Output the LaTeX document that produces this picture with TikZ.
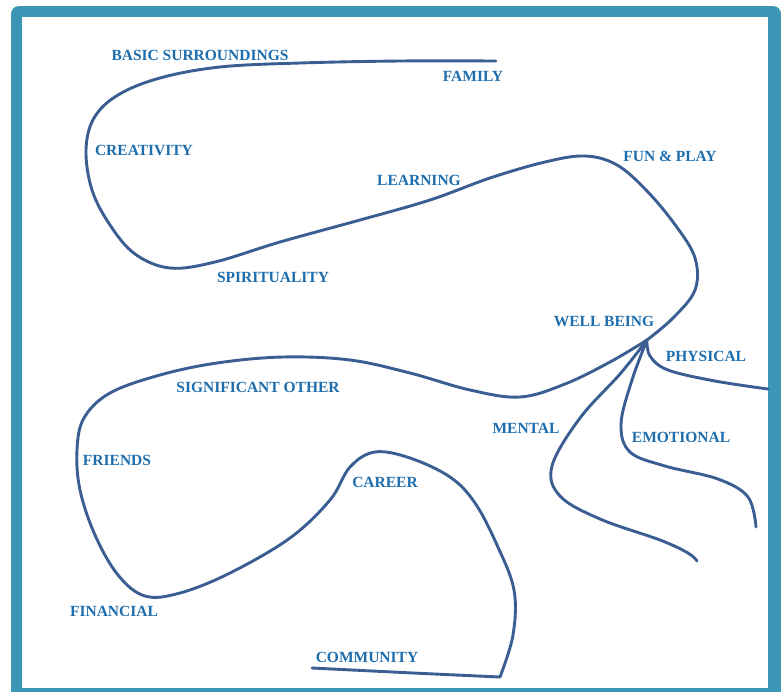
\documentclass[tikz,border=0pt]{standalone}
\usepackage{fontspec}
\setmainfont{Liberation Serif}
\usepackage{tikz}
\usetikzlibrary{calc}
\definecolor{framecol}{RGB}{59,150,181}
\definecolor{inkcol}{RGB}{58,94,146}
\definecolor{txtcol}{RGB}{30,110,174}
\tikzset{
  lbl/.style={text=txtcol,font=\bfseries\fontsize{15.5}{18}\selectfont,inner sep=0pt},
  curve/.style={draw=inkcol,line width=2.9pt,line cap=round,line join=round}
}
\newcommand{\frameit}[4]{
  \useasboundingbox (0,0) rectangle (#1,#2);
  \clip (0,0) rectangle (#1,#2);
  \fill[framecol,rounded corners=8pt] (11,6) rectangle (#1,#2+20);% Draw teal border
  \fill[white] (22,17) rectangle (#3,#4);% White sheet
}

\begin{document}
\begin{tikzpicture}[x=1pt,y=-1pt]
    \frameit{781}{691}{768}{688}

    \coordinate (cusp) at (647,340);

    % upper loop, from family round to well being
    \draw[curve] plot[smooth,tension=0.6] coordinates {
      (496,61) (400,61) (300,63) (220,67) (160,78) (118,95) (94,118)
      (86,150) (92,190) (110,225) (135,254) (170,268) (215,262)
      (280,242) (360,220) (430,200) (490,178) (545,162) (585,156)
      (617,165) (647,191) (676,226) (695,258) (695,290) (673,318) (cusp)};
    % lower loop, from well being down to community
    \draw[curve] plot[smooth,tension=0.6] coordinates {
      (cusp) (610,362) (565,384) (520,397) (470,390) (410,373) (350,360)
      (283,357) (217,363) (160,375) (110,393) (84,418) (77,450) (80,490)
      (95,535) (118,575) (145,596) (180,593) (230,573) (290,538)
      (330,500) (350,467) (375,452) (410,458) (450,477) (475,503)
      (497,545) (514,590) (513,635) (500,677)};
    \draw[curve] plot[smooth,tension=0.6] coordinates {
      (500,677) (413,673) (312,668)};
    % branches
    \draw[curve] plot[smooth,tension=0.6] coordinates {
      (cusp) (650,356) (668,370) (715,381) (768,389)};
    \draw[curve] plot[smooth,tension=0.6] coordinates {
      (cusp) (632,380) (621,424) (630,452) (665,466) (718,479)
      (748,497) (756,527)};
    \draw[curve] plot[smooth,tension=0.6] coordinates {
      (cusp) (620,374) (580,418) (552,466) (560,496) (600,519)
      (660,540) (688,553) (697,561)};

    \node[lbl] (bs)  at (200,55)  {BASIC SURROUNDINGS};
    \node[lbl] (fam) at (473,76)  {FAMILY};
    \node[lbl] (cre) at (144,150) {CREATIVITY};
    \node[lbl] (lrn) at (419,180) {LEARNING};
    \node[lbl] (fun) at (670,156) {FUN \& PLAY};
    \node[lbl] (spi) at (273,277) {SPIRITUALITY};
    \node[lbl] (wb)  at (604,321) {WELL BEING};
    \node[lbl] (phy) at (706,356) {PHYSICAL};
    \node[lbl] (sig) at (258,387) {SIGNIFICANT OTHER};
    \node[lbl] (men) at (526,428) {MENTAL};
    \node[lbl] (emo) at (681,437) {EMOTIONAL};
    \node[lbl] (fri) at (117,460) {FRIENDS};
    \node[lbl] (car) at (385,482) {CAREER};
    \node[lbl] (fin) at (114,611) {FINANCIAL};
    \node[lbl] (com) at (367,657) {COMMUNITY};
\end{tikzpicture}
\end{document}
